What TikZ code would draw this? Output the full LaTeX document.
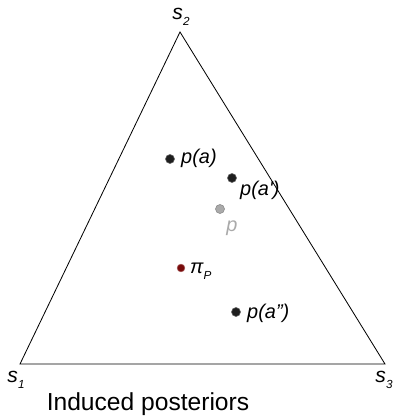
\documentclass[tikz,border=0pt]{standalone}
\usepackage{fontspec}
\setmainfont{Liberation Sans}
\usepackage{xcolor}
\usetikzlibrary{positioning}
\definecolor{PTDark}{RGB}{30,30,30}
\definecolor{PTGray}{RGB}{170,170,170}
\definecolor{PTRed}{RGB}{120,10,10}
\newcommand{\lowsub}[1]{\raisebox{-0.55ex}{\fontsize{10}{11}\selectfont #1}}

\begin{document}
\begin{tikzpicture}[x=0.03cm, y=-0.03cm,
            pt/.style={circle, fill=PTDark, draw=black!60, line width=0.5pt,
                       inner sep=0pt, minimum size=0.27cm},
            lbl/.style={font=\itshape\fontsize{17}{19}\selectfont, inner sep=0pt},
            vx/.style={font=\itshape\fontsize{18}{20}\selectfont, inner sep=0pt}
          ]
          \useasboundingbox (0,0) rectangle (393,418);

          % Simplex
          \coordinate (v2) at (180,32);
          \coordinate (v1) at (20,364);
          \coordinate (v3) at (385,364);
          \draw[line width=0.7pt] (v1) -- (v2) -- (v3) -- cycle;

          % Vertex labels
          \node[vx] (s2) at (181,17) {s\lowsub{2}};
          \node[vx] (s1) at (16,380) {s\lowsub{1}};
          \node[vx] (s3) at (384,380) {s\lowsub{3}};

          % Posteriors
          \node[pt] (pa) at (170,159) {};
          \node[lbl, anchor=west] (lpa) at (181,158) {p(a)};
          \node[pt] (pa1) at (232,178) {};
          \node[lbl, anchor=west] (lpa1) at (240,190) {p(a\textquotesingle)};
          \node[pt, fill=PTGray, draw=black!45] (pp) at (220,209) {};
          \node[lbl, text=PTGray] (lpp) at (232,228) {p};
          \node[pt, fill=PTRed, draw=PTRed!70, minimum size=0.23cm] (pi) at (181,268) {};
          \node[lbl, anchor=west] (lpi) at (190,271) {π\lowsub{P}};
          \node[pt] (pa2) at (236,312) {};
          \node[lbl, anchor=west] (lpa2) at (247,313) {p(a")};

          % Caption
          \node[font=\fontsize{21}{24}\selectfont] (cap) at (148,404) {Induced posteriors};
        \end{tikzpicture}
\end{document}
